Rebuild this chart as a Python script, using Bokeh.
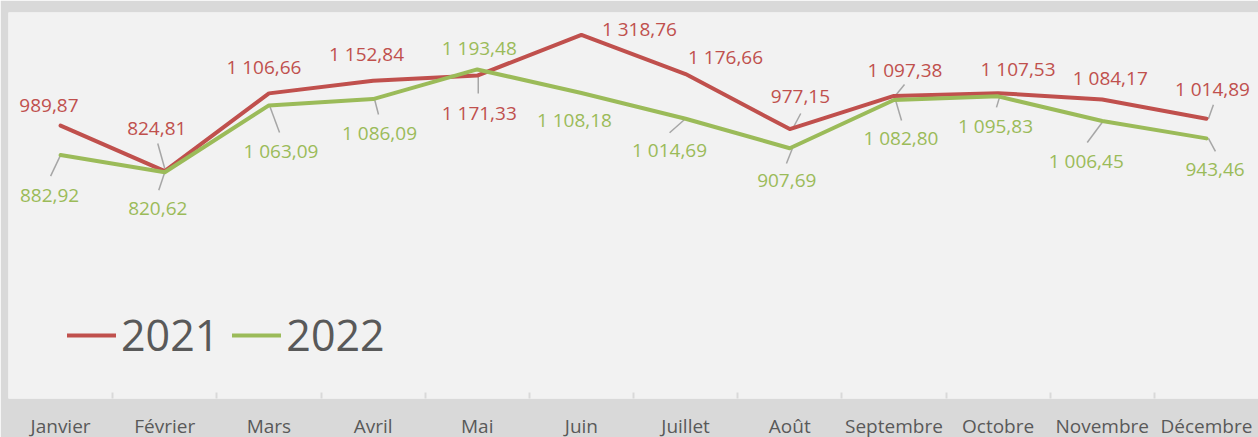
from bokeh.plotting import figure
from bokeh.models import Legend, LegendItem, FixedTicker, Range1d, ColumnDataSource
from bokeh.core.properties import value
from bokeh.embed import file_html
from bokeh.resources import INLINE

# ---------------- data ----------------
months = ["Janvier", "Février", "Mars", "Avril", "Mai", "Juin",
          "Juillet", "Août", "Septembre", "Octobre", "Novembre", "Décembre"]
series_names = ["2021", "2022"]
v2021 = [989.87, 824.81, 1106.66, 1152.84, 1171.33, 1318.76,
         1176.66, 977.15, 1097.38, 1107.53, 1084.17, 1014.89]
v2022 = [882.92, 820.62, 1063.09, 1086.09, 1193.48, 1108.18,
         1014.69, 907.69, 1082.80, 1095.83, 1006.45, 943.46]

# ---------------- label placement (screen px: dx right, dy down) ----------------
lab21_dx = [-11.6, -8, -5, -6.6, 2, 58, 40, 10.7, 11, 20, 8, 6]
lab21_dy = [-19.6, -43, -26.5, -27, 37, -6, -16.6, -32.6, -26, -24, -22, -30]
lab22_dx = [-11, -7, 12, 6.4, 2, -7, -16, -3, 7, -2.6, -16, 8.6]
lab22_dy = [40, 36, 45.6, 33.5, -21, 27, 31, 32, 38, 29.6, 39.5, 31.6]

# leader lines: (index, x0, y0, x1, y1) offsets in px from the point
lead21 = [(1, -7, -27.6, 0, -2.6), (4, 1, 0, 1, 18), (7, 11, -15.6, 3, -0.6),
          (8, 10.6, -11.4, 1.6, -0.4), (11, 7, -14, 2, 0)]
lead22 = [(0, 0, 0, -10, 21), (1, 0, 0, -6, 18), (2, 0.6, 0, 10.6, 27),
          (3, 1.4, 0, 5.4, 15.4), (6, 1, -1, -16, 14), (7, 2.7, 0, -3.3, 15.3),
          (8, 1.6, 0, 7.6, 20.5), (9, 1.4, 1, -1.6, 11), (10, 1, 0, -15, 21.5),
          (11, 2, 0, 9, 13)]

RED = "#c0504d"
GREEN = "#9bbb59"
TXT = "#595959"
FONT = "Open Sans"

FW, FH = 1250, 386
XMAX, YMAX = 12, 1400
px_x = FW / XMAX
px_y = FH / YMAX


def fmt(v):
    return f"{v:,.2f}".replace(",", " ").replace(".", ",")


xs = [i + 0.5 for i in range(len(months))]

p = figure(frame_width=FW, frame_height=FH,
           x_range=Range1d(0, XMAX), y_range=Range1d(0, YMAX),
           y_axis_type=None, toolbar_location=None, output_backend="svg",
           min_border_left=8, min_border_right=0, min_border_top=12,
           min_border_bottom=39,
           background_fill_color="#f2f2f2", border_fill_color="#d9d9d9",
           outline_line_color=None)
p.xgrid.grid_line_color = None
p.ygrid.grid_line_color = None

# x axis: month labels at centres, small ticks at category boundaries
ax = p.xaxis[0]
ax.ticker = FixedTicker(ticks=xs, minor_ticks=list(range(1, XMAX)))
ax.major_label_overrides = {x: m for x, m in zip(xs, months)}
ax.axis_line_color = None
ax.major_tick_line_color = None
ax.minor_tick_in = 6
ax.minor_tick_out = 0
ax.minor_tick_line_color = "#d9d9d9"
ax.minor_tick_line_width = 2
ax.major_label_text_font = FONT
ax.major_label_text_font_size = "19px"
ax.major_label_text_color = TXT
ax.major_label_standoff = 8

renderers = []
for vals, col, ldx, ldy, leads in [(v2021, RED, lab21_dx, lab21_dy, lead21),
                                   (v2022, GREEN, lab22_dx, lab22_dy, lead22)]:
    # leader lines
    x0 = [xs[i] + a / px_x for i, a, b, c, d in leads]
    y0 = [vals[i] - b / px_y for i, a, b, c, d in leads]
    x1 = [xs[i] + c / px_x for i, a, b, c, d in leads]
    y1 = [vals[i] - d / px_y for i, a, b, c, d in leads]
    p.segment(x0, y0, x1, y1, line_color="#a6a6a6", line_width=1.5)

    r = p.line(xs, vals, line_color=col, line_width=4,
               line_join="round", line_cap="round")
    renderers.append(r)

    src = ColumnDataSource(dict(
        x=[x + dx / px_x for x, dx in zip(xs, ldx)],
        y=[v - dy / px_y for v, dy in zip(vals, ldy)],
        t=[fmt(v) for v in vals]))
    p.text("x", "y", text="t", source=src, text_color=col,
           text_font=value(FONT), text_font_size="19px",
           text_align="center", text_baseline="middle")

legend = Legend(items=[LegendItem(label=series_names[0], renderers=[renderers[0]]),
                       LegendItem(label=series_names[1], renderers=[renderers[1]])],
                orientation="horizontal", location=(59, 34),
                label_text_font=FONT, label_text_font_size="43px",
                label_text_color=TXT, glyph_width=49, label_standoff=5,
                spacing=13, padding=0, margin=0, border_line_color=None,
                background_fill_alpha=0)
p.add_layout(legend)

open("out.html", "w").write(file_html(p, INLINE))
